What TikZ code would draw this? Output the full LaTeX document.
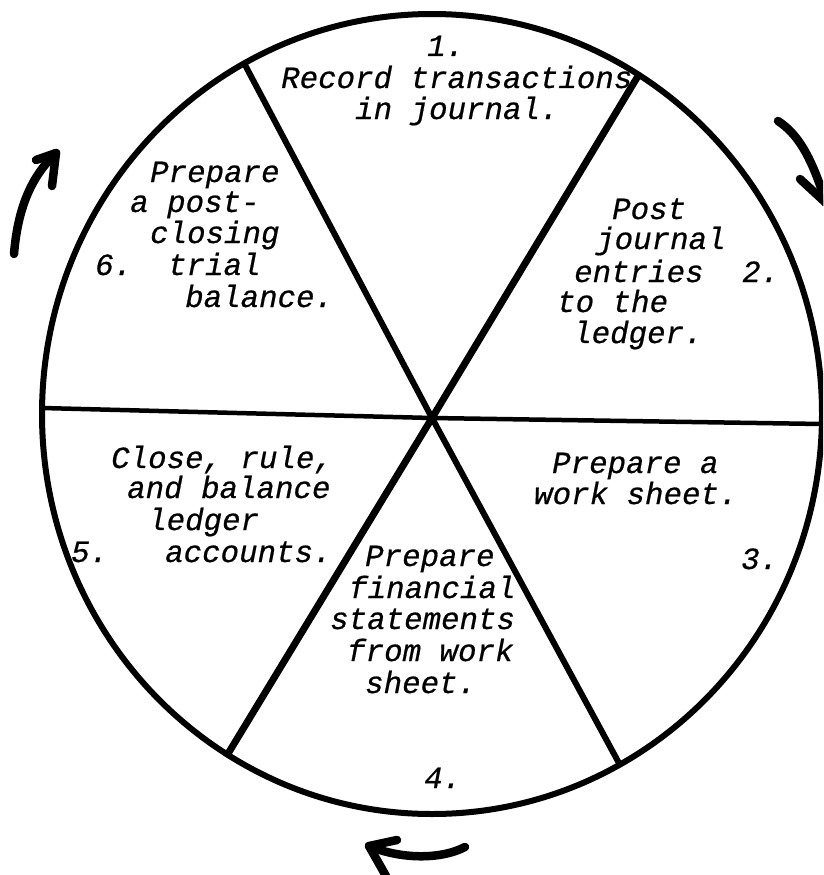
\documentclass[tikz,border=0pt]{standalone}
\usepackage{fontspec}
\newfontfamily\typew[FakeBold=0.6]{Liberation Mono}
\begin{document}
\begin{tikzpicture}[x=1pt,y=-1pt,
  txt/.style={anchor=base west,inner sep=0pt,font=\typew\itshape\fontsize{30.8}{31}\selectfont\frenchspacing},
  rim/.style={line width=6pt},
  spoke/.style={line width=6pt},
  thinspoke/.style={line width=4.5pt},
  hand/.style={line width=8.5pt,line cap=round,line join=round}]
\useasboundingbox (0,0) rectangle (823,875);
\clip (0,0) rectangle (823,875);
% wheel
\coordinate (c) at (432,418);
\coordinate (tl) at (244,63);
\coordinate (tr) at (638,76);
\coordinate (bl) at (226,757);
\coordinate (br) at (620,765);
\coordinate (l) at (42,408);
\coordinate (r) at (822,424);
\draw[rim] (432,414) ellipse [x radius=390, y radius=400];
\draw[spoke] (tl) -- (c) -- (br);
\draw[spoke,line width=7pt] (tr) -- (c) -- (bl);
\draw[thinspoke] (l) -- (c) -- (r);
% segment 1
\node[txt] (n1) at (427,56) {1.};
\node[txt] (t1a) at (281,88) {Record transactions};
\node[txt] (t1b) at (355,119) {in journal.};
% segment 2
\node[txt] (t2a) at (612,219) {Post};
\node[txt] (t2b) at (596,249) {journal};
\node[txt] (t2c) at (574,282) {entries};
\node[txt] (n2) at (742,282) {2.};
\node[txt] (t2d) at (557,312) {to the};
\node[txt] (t2e) at (573,343) {ledger.};
% segment 3
\node[txt] (t3a) at (552,473) {Prepare a};
\node[txt] (t3b) at (534,504) {work sheet.};
\node[txt] (n3) at (741,569) {3.};
% segment 4
\node[txt] (t4a) at (365,566) {Prepare};
\node[txt] (t4b) at (349,598) {financial};
\node[txt] (t4c) at (330,629) {statements};
\node[txt] (t4d) at (347,661) {from work};
\node[txt] (t4e) at (365,693) {sheet.};
\node[txt] (n4) at (424,788) {4.};
% segment 5
\node[txt] (t5a) at (111,468) {Close, rule,};
\node[txt] (t5b) at (127,498) {and balance};
\node[txt] (t5c) at (148,530) {ledger};
\node[txt] (n5) at (71,562) {5.};
\node[txt] (t5d) at (165,562) {accounts.};
% segment 6
\node[txt] (t6a) at (150,182) {Prepare};
\node[txt] (t6b) at (130,212) {a post-};
\node[txt] (t6c) at (150,243) {closing};
\node[txt] (n6) at (95,275) {6.};
\node[txt] (t6d) at (168,275) {trial};
\node[txt] (t6e) at (185,307) {balance.};
% hand-drawn arrows
\coordinate (a1s) at (778,121);
\coordinate (a1t) at (826,203);
\draw[hand] (a1s) .. controls (796,133) and (810,152) .. (a1t);
\draw[hand] (a1t) -- (800,179);
\draw[hand] (a1t) -- (846,182);
\coordinate (a2s) at (465,847);
\coordinate (a2t) at (369,846);
\draw[hand] (a2s) .. controls (440,860) and (400,859) .. (a2t);
\draw[hand] (a2t) -- (397,840);
\draw[hand] (a2t) -- (386,876);
\coordinate (a3s) at (14,254);
\coordinate (a3t) at (56,153);
\draw[hand] (a3s) .. controls (18,205) and (33,175) .. (a3t);
\draw[hand] (a3t) -- (36,160);
\draw[hand] (a3t) -- (52,186);
\end{tikzpicture}
\end{document}
